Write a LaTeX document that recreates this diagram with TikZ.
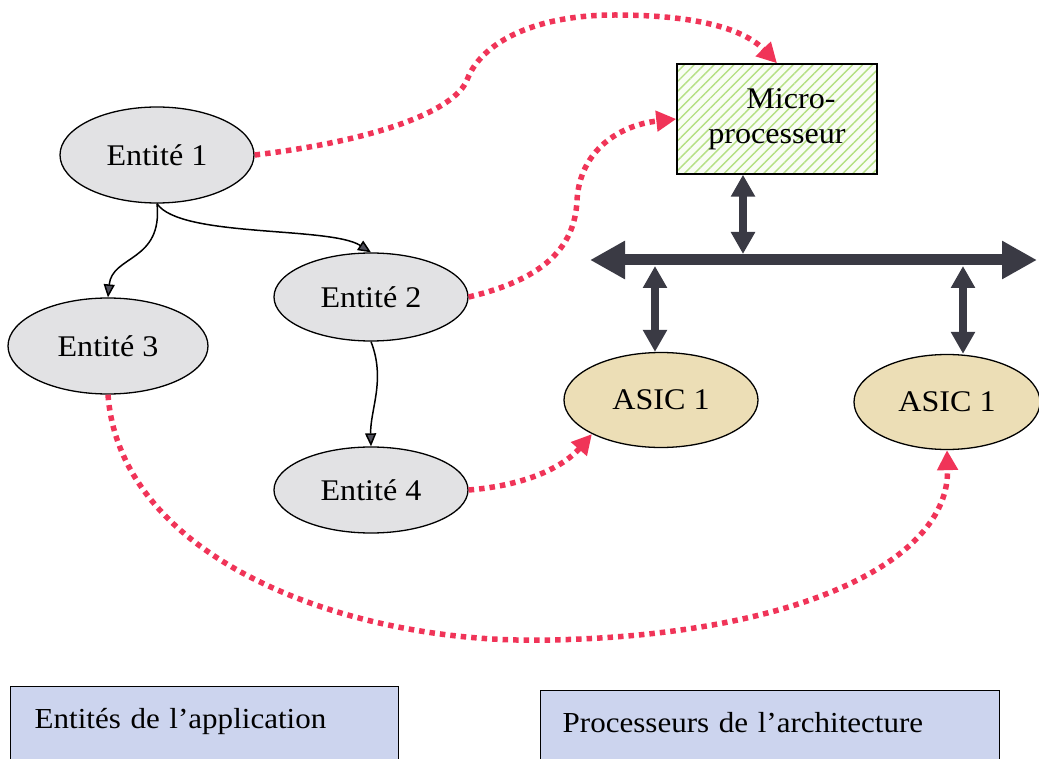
\documentclass[tikz,border=0pt]{standalone}
\usepackage{fontspec}
\setmainfont{Liberation Serif}[FakeStretch=1.07]
\usetikzlibrary{shapes.geometric,arrows.meta,patterns.meta}

\definecolor{entfill}{RGB}{226,226,228}
\definecolor{asicfill}{RGB}{236,222,182}
\definecolor{hatchc}{RGB}{180,224,130}
\definecolor{legfill}{RGB}{204,212,238}
\definecolor{busc}{RGB}{58,58,68}
\definecolor{mapc}{RGB}{240,52,88}
\definecolor{tipc}{RGB}{80,80,92}

\begin{document}
\begin{tikzpicture}[x=1pt,y=-1pt,
  txt/.style={font=\fontsize{30}{35}\selectfont},
  entity/.style={ellipse,draw=black,line width=1.3pt,fill=entfill,inner sep=0pt,txt},
  asic/.style={ellipse,draw=black,line width=1.3pt,fill=asicfill,inner sep=0pt,txt},
  cpu/.style={rectangle,draw=black,line width=1.5pt,inner sep=0pt,txt,align=center,
    preaction={fill=white!92!hatchc},
    pattern={Lines[angle=45,distance=7pt,line width=1.4pt]},pattern color=hatchc},
  legend/.style={rectangle,draw=black,line width=1.4pt,fill=legfill,anchor=north west,
    inner ysep=20pt,text height=22pt,text depth=50pt,align=left,
    font=\fontsize{29}{35}\selectfont},
  flow/.style={draw=black,line width=1.5pt,-{Triangle[length=13pt,width=11pt,fill=tipc]}},
  mapping/.style={draw=mapc,line width=5.5pt,dash pattern=on 5.5pt off 5pt,
    -{Triangle[length=20pt,width=20pt]}},
  bus/.style={draw=busc,line width=11pt,{Triangle[length=35pt,width=36pt]}-{Triangle[length=35pt,width=36pt]}},
  link/.style={draw=busc,line width=8pt,{Triangle[length=22pt,width=23pt]}-{Triangle[length=22pt,width=23pt]}}
]
\useasboundingbox (0,0) rectangle (1039,759);

% application entities
\node[entity,minimum width=194pt,minimum height=96pt] (e1) at (157,155) {Entité 1};
\node[entity,minimum width=194pt,minimum height=88pt] (e2) at (371,297) {Entité 2};
\node[entity,minimum width=200pt,minimum height=96pt] (e3) at (108,346) {Entité 3};
\node[entity,minimum width=194pt,minimum height=86pt] (e4) at (371,490) {Entité 4};

% architecture processors
\node[cpu,minimum width=200pt,minimum height=110pt] (cpu) at (777,119) {\hspace*{28pt}Micro-\\processeur};
\node[asic,minimum width=194pt,minimum height=95pt] (asicL) at (661,400) {ASIC 1};
\node[asic,minimum width=186pt,minimum height=95pt] (asicR) at (947,402) {ASIC 1};

% bus and its taps
\coordinate (busL) at (590,260);
\coordinate (busR) at (1037,260);
\coordinate (tapM) at (743,254);
\coordinate (tapA) at (655,266);
\coordinate (tapB) at (963,266);
\draw[bus] (busL) -- (busR);
\draw[link] (cpu.south -| tapM) -- (tapM);
\draw[link] (tapA) -- (asicL.north -| tapA);
\draw[link] (tapB) -- (asicR.north -| tapB);

% dependencies between entities
\draw[flow] (e1.south) .. controls (163,262) and (112,255) .. (e3.north);
\draw[flow] (e1.south) .. controls (180,238) and (330,226) .. (e2.north);
\draw[flow] (e2.south) .. controls (386,380) and (370,410) .. (e4.north);

% mapping of entities onto processors
\draw[mapping] (e1.east) .. controls (380,140) and (455,110) .. (467,80)
  .. controls (480,45) and (530,15) .. (615,15)
  .. controls (700,15) and (745,30) .. (cpu.north);
\draw[mapping] (e2.east) .. controls (540,280) and (575,250) .. (577,200)
  .. controls (580,150) and (620,125) .. (cpu.west);
\draw[mapping] (e4.east) .. controls (530,485) and (565,465) .. (asicL.south west);
\draw[mapping] (e3.south) .. controls (120,560) and (350,645) .. (550,640)
  .. controls (800,635) and (950,560) .. (asicR.south);

% legends
\node[legend,inner xsep=24pt,text width=340pt] (legA) at (10,686) {Entités de l’application};
\node[legend,inner xsep=22pt,text width=415pt] (legB) at (540,690) {Processeurs de l’architecture};
\end{tikzpicture}
\end{document}
